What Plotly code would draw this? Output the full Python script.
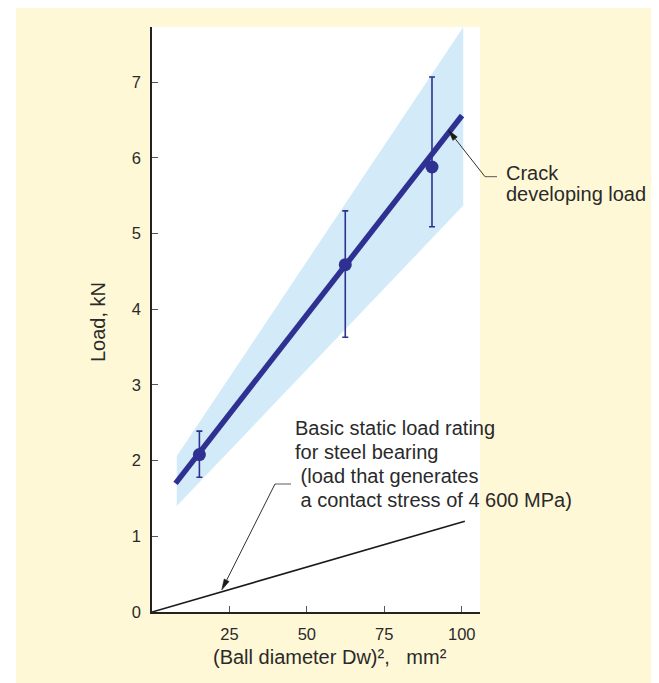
import math
import plotly.graph_objects as go

# ---- data ----
band_x = [8.0, 100.5]
band_upper = [2.06, 7.73]
band_lower = [1.40, 5.37]

fit_x = [7.6, 100.1]
fit_y = [1.70, 6.56]

pt_x = [15.3, 62.4, 90.4]
pt_y = [2.08, 4.59, 5.88]
pt_hi = [2.39, 5.30, 7.07]
pt_lo = [1.78, 3.63, 5.09]

static_x = [0, 101]
static_y = [0, 1.2]

x_ticks = [25, 50, 75, 100]
y_ticks = [0, 1, 2, 3, 4, 5, 6, 7]

static_label = ["Basic static load rating", "for steel bearing",
                "\u00a0(load that generates", "\u00a0a contact stress of 4\u00a0600 MPa)"]
crack_label = ["Crack", "developing load"]

# ---- layout geometry (page pixels; page body has an 8px margin) ----
OFF = 8
PAGE_W, PAGE_H = 659, 683
W, H = PAGE_W - OFF, PAGE_H - OFF
L, R, T, B = 152, 480, 27, 612   # plot area in page pixels

def px(xp):
    return (xp - L) / (R - L)

def py(yp):
    return (B - yp) / (B - T)

NAVY = "#2E3192"
TXT = "#2a2a2a"
CREAM = "#FFF8D6"
FONT = "Liberation Sans, Arial, sans-serif"
FS = 20


def arrow_shapes(tip, tail, color="#1a1a1a", head_len=11, head_w=2.8):
    tx, ty = tip
    sx, sy = tail
    d = math.hypot(sx - tx, sy - ty)
    ux, uy = (sx - tx) / d, (sy - ty) / d
    bx, by = tx + ux * head_len, ty + uy * head_len
    nx, ny = -uy, ux
    p1 = (bx + nx * head_w, by + ny * head_w)
    p2 = (bx - nx * head_w, by - ny * head_w)
    path = "M {} {} L {} {} L {} {} Z".format(
        px(tx), py(ty), px(p1[0]), py(p1[1]), px(p2[0]), py(p2[1]))
    return [
        dict(type="line", xref="paper", yref="paper",
             x0=px(sx), y0=py(sy), x1=px(bx), y1=py(by),
             line=dict(color=color, width=0.9)),
        dict(type="path", xref="paper", yref="paper", path=path,
             fillcolor=color, line=dict(color=color, width=0.5)),
    ]


fig = go.Figure()

# scatter band
fig.add_trace(go.Scatter(
    x=band_x + band_x[::-1] + [band_x[0]],
    y=band_upper + band_lower[::-1] + [band_upper[0]],
    mode="lines", fill="toself", fillcolor="#D3EBF9",
    line=dict(width=0, color="#D3EBF9"), hoverinfo="skip", showlegend=False))

# basic static load rating line
fig.add_trace(go.Scatter(x=static_x, y=static_y, mode="lines",
                         line=dict(color="#1a1a1a", width=1.6), showlegend=False))

# crack developing load fit line
fig.add_trace(go.Scatter(x=fit_x, y=fit_y, mode="lines",
                         line=dict(color=NAVY, width=5.5), showlegend=False))

# measured points with error bars
fig.add_trace(go.Scatter(
    x=pt_x, y=pt_y, mode="markers",
    marker=dict(color=NAVY, size=13),
    error_y=dict(type="data", symmetric=False,
                 array=[h - y for h, y in zip(pt_hi, pt_y)],
                 arrayminus=[y - l for l, y in zip(pt_lo, pt_y)],
                 color=NAVY, thickness=1.6, width=3),
    showlegend=False))


def text_ann(text, xp, yp, **kw):
    d = dict(x=px(xp), y=py(yp), xref="paper", yref="paper", text=text,
             showarrow=False, xanchor="left", yanchor="middle", align="left",
             font=dict(family=FONT, size=FS, color=TXT))
    d.update(kw)
    return d


annotations = []
for i, line in enumerate(static_label):
    annotations.append(text_ann(line, 293, 427.5 + 24.3 * i))
for i, line in enumerate(crack_label):
    annotations.append(text_ann(line, 504, 172.5 + 21 * i))

annotations += [
    text_ann("(Ball diameter Dw)\u00b2,\u00a0\u00a0 mm\u00b2", 329.5, 657, xanchor="center"),
    text_ann("Load, kN", 98, 322, xanchor="center", textangle=-90),
]

shapes = [
    # white strip at the left of the cream panel
    dict(type="rect", xref="paper", yref="paper", layer="below",
         x0=px(OFF), x1=px(16), y0=py(PAGE_H), y1=py(OFF),
         fillcolor="white", line=dict(width=0)),
    # short leader segments
    dict(type="line", xref="paper", yref="paper",
         x0=px(275), x1=px(291), y0=py(484), y1=py(484),
         line=dict(color="#777777", width=1.2)),
    dict(type="line", xref="paper", yref="paper",
         x0=px(485), x1=px(497), y0=py(176.7), y1=py(176.7),
         line=dict(color="#555555", width=1.0)),
]
shapes += arrow_shapes((221.7, 590), (275, 484))
shapes += arrow_shapes((448.3, 130), (485, 176.7))

fig.update_layout(
    width=W, height=H,
    margin=dict(l=L - OFF, r=PAGE_W - R, t=T - OFF, b=PAGE_H - B, pad=0),
    paper_bgcolor=CREAM, plot_bgcolor="white",
    font=dict(family=FONT, color=TXT),
    annotations=annotations, shapes=shapes,
    xaxis=dict(range=[0, 105.9], tickvals=x_ticks, ticktext=[str(v) for v in x_ticks],
               ticks="inside", ticklen=6, tickwidth=1, tickcolor="#555555",
               showline=True, linecolor="#222222", linewidth=1.6,
               showgrid=False, zeroline=False, ticklabelstandoff=6,
               tickfont=dict(family=FONT, size=16.5, color=TXT), fixedrange=True),
    yaxis=dict(range=[0, 7.73], tickvals=y_ticks, ticktext=[str(v) for v in y_ticks],
               ticks="inside", ticklen=6, tickwidth=1, tickcolor="#555555",
               showline=True, linecolor="#222222", linewidth=1.6,
               showgrid=False, zeroline=False, ticklabelstandoff=6,
               tickfont=dict(family=FONT, size=16.5, color=TXT), fixedrange=True),
)

fig.write_html("out.html")
